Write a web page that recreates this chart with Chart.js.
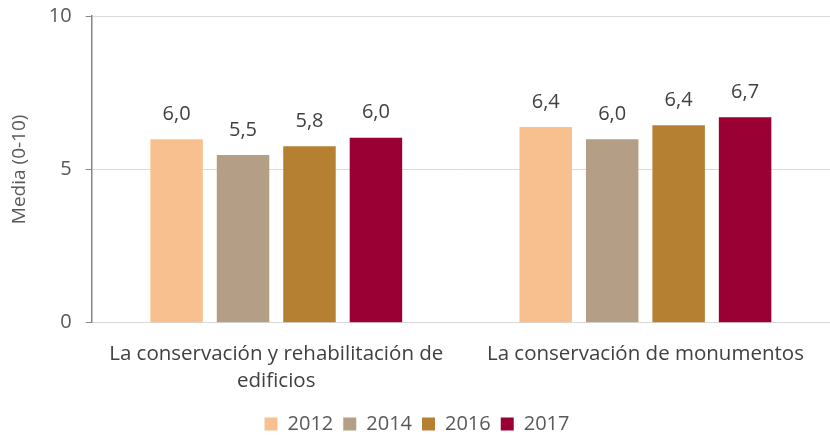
<!DOCTYPE html>
<html>
<head>
<meta charset="utf-8">
<script src="https://cdn.jsdelivr.net/npm/chart.js@4"></script>
<style>
  html, body { margin: 0; padding: 0; background: #fff; }
  #wrap { width: 830px; height: 435px; }
</style>
</head>
<body>
<div id="wrap"><canvas id="graph" width="830" height="435"></canvas></div>
<script>
const categories = [['La conservación y rehabilitación de', 'edificios'], 'La conservación de monumentos'];
const years = ['2012', '2014', '2016', '2017'];
const values2012 = [5.98, 6.38];
const values2014 = [5.47, 5.98];
const values2016 = [5.75, 6.44];
const values2017 = [6.03, 6.70];
const colors = ['#F9C08F', '#B59E86', '#B58032', '#9B0035'];

// write the value above each bar, with a comma as decimal separator
const barLabels = {
    id: 'barLabels',
    afterDatasetsDraw(chart) {
        const ctx = chart.ctx;
        ctx.save();
        ctx.font = '20px "Open Sans"';
        ctx.fillStyle = '#404040';
        ctx.textAlign = 'center';
        ctx.textBaseline = 'middle';
        chart.data.datasets.forEach((ds, i) => {
            chart.getDatasetMeta(i).data.forEach((bar, j) => {
                ctx.fillText(ds.data[j].toFixed(1).replace('.', ','), bar.x, bar.y - 25);
            });
        });
        ctx.restore();
    }
};

const allValues = [values2012, values2014, values2016, values2017];

const graph = document.getElementById('graph').getContext('2d');
let myChart = new Chart(graph, {
    type: 'bar',
    data: {
        labels: categories,
        datasets: years.map((y, i) => ({
            label: y,
            data: allValues[i],
            backgroundColor: colors[i],
            barPercentage: 0.79,
            categoryPercentage: 0.72
        }))
    },
    options: {
        responsive: false,
        animation: false,
        layout: { padding: { top: 0, right: 0, left: 4, bottom: -9 } },
        plugins: {
            legend: {
                position: 'bottom',
                labels: {
                    boxWidth: 13,
                    boxHeight: 13,
                    padding: 10,
                    color: '#595959',
                    font: { family: 'Open Sans', size: 20 }
                }
            },
            tooltip: { enabled: false }
        },
        scales: {
            x: {
                grid: { display: false },
                border: { color: '#d9d9d9' },
                ticks: {
                    color: '#404040',
                    font: { family: 'Open Sans', size: 20.5, lineHeight: 1.3 },
                    maxRotation: 0,
                    padding: 10
                }
            },
            y: {
                min: 0,
                max: 10,
                ticks: {
                    stepSize: 5,
                    color: '#595959',
                    font: { family: 'Open Sans', size: 20 },
                    padding: 4,
                    // en space keeps the numbers clear of the tick marks
                    callback: (v) => v + '\u2002'
                },
                grid: { color: '#d9d9d9', tickColor: '#868686', tickLength: 6 },
                border: { color: '#868686', width: 1.5 },
                title: {
                    display: true,
                    text: 'Media (0-10)',
                    color: '#595959',
                    font: { family: 'Open Sans', size: 19 },
                    padding: { bottom: 14 }
                }
            }
        }
    },
    plugins: [barLabels]
});
</script>
</body>
</html>
